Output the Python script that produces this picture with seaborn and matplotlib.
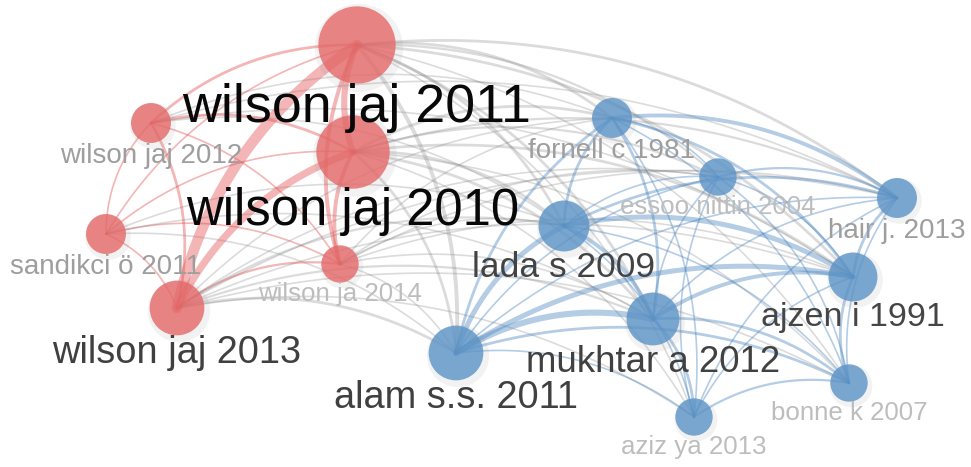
import numpy as np
import pandas as pd
import matplotlib
matplotlib.use("Agg")
import matplotlib.pyplot as plt
import seaborn as sns

# nodes of the co-citation map (layout position, citations, cluster)
labels = ["wilson jaj 2011", "wilson jaj 2010", "wilson jaj 2012", "sandikci ö 2011",
          "wilson ja 2014", "wilson jaj 2013", "fornell c 1981", "essoo nittin 2004",
          "hair j. 2013", "lada s 2009", "ajzen i 1991", "mukhtar a 2012",
          "alam s.s. 2011", "bonne k 2007", "aziz ya 2013"]
keys = ["w11", "w10", "w12", "san", "w14", "w13", "for", "ess",
        "hai", "lad", "ajz", "muk", "ala", "bon", "azi"]
pos_x = [357, 353, 151, 106, 340, 177, 612, 718, 897, 564, 853, 653, 456, 849, 694]
pos_y = [45, 152, 123, 234, 264, 308, 118, 177, 198, 226, 277, 319, 353, 383, 417]
citations = [30, 27, 8, 8, 7, 15, 8, 7, 8, 13, 12, 14, 15, 7, 7]
cluster = ["red"] * 6 + ["blue"] * 9

# links between nodes: (source, target, link strength)
edges = [
    ("w11", "w13", 9), ("w11", "w10", 5), ("w10", "w13", 6), ("w11", "w14", 3),
    ("w10", "w14", 3), ("w11", "w12", 2), ("w10", "w12", 2), ("w12", "w13", 2),
    ("w12", "san", 1), ("san", "w13", 1), ("san", "w11", 1), ("san", "w10", 1),
    ("w14", "w13", 1.5), ("w12", "w14", 1), ("san", "w14", 1),
    ("w11", "ala", 3), ("w10", "ala", 2), ("w11", "lad", 2), ("w10", "lad", 2),
    ("w11", "hai", 2), ("w11", "for", 2), ("w10", "for", 2), ("w10", "hai", 1.5),
    ("w11", "ess", 1.5), ("w10", "ess", 1.5), ("w11", "ajz", 2), ("w10", "ajz", 2),
    ("w11", "muk", 2), ("w10", "muk", 2), ("w11", "bon", 1), ("w10", "bon", 1),
    ("w11", "azi", 1), ("w10", "azi", 1), ("w13", "ala", 2), ("w13", "lad", 1.5),
    ("w13", "muk", 1.5), ("w13", "ajz", 1), ("w13", "for", 1), ("w13", "hai", 1),
    ("w13", "bon", 1), ("w13", "azi", 1), ("w13", "ess", 1), ("w14", "lad", 1),
    ("w14", "ala", 1), ("w14", "muk", 1), ("w14", "ajz", 1), ("w14", "for", 1),
    ("w12", "for", 1), ("w12", "lad", 1), ("w12", "ajz", 1), ("w12", "hai", 1),
    ("san", "ala", 1), ("san", "lad", 1), ("san", "muk", 1), ("w14", "hai", 1),
    ("w14", "ess", 1),
    ("ala", "muk", 5), ("ala", "lad", 4), ("ala", "ajz", 4), ("lad", "muk", 3),
    ("lad", "ajz", 4), ("muk", "ajz", 3), ("for", "hai", 3), ("for", "muk", 2),
    ("for", "ajz", 2), ("for", "ala", 2), ("hai", "ajz", 2), ("lad", "hai", 2),
    ("muk", "azi", 2), ("muk", "bon", 2), ("ajz", "bon", 2), ("azi", "bon", 1.5),
    ("ala", "azi", 1), ("ala", "bon", 2), ("ess", "hai", 1.5), ("ess", "ajz", 1),
    ("for", "lad", 2), ("lad", "azi", 1), ("ess", "muk", 1), ("for", "ess", 1),
    ("hai", "muk", 1), ("hai", "bon", 1), ("lad", "bon", 1), ("for", "azi", 1),
    ("ajz", "azi", 1), ("ess", "bon", 1), ("ess", "ala", 1), ("lad", "ess", 1),
    ("ala", "hai", 1), ("for", "bon", 1), ("ess", "azi", 1), ("hai", "azi", 1),
]

df = pd.DataFrame({"key": keys, "label": labels, "x": pos_x, "y": pos_y,
                   "w": citations, "cluster": cluster}).set_index("key")

palette = {"red": "#e56868", "blue": "#5b93c7"}
edge_colors = {"red": "#e45050", "blue": "#4d87c0"}

sns.set_style("white")
plt.rcParams["font.family"] = ["Liberation Sans", "DejaVu Sans"]

fig = plt.figure(figsize=(9.71, 4.67), dpi=100)
ax = fig.add_axes([0, 0, 1, 1])


def curve(p, q, c=0.2, n=60):
    # quadratic bezier, always bending the same way (VOSviewer style)
    if p[0] > q[0]:
        p, q = q, p
    d = q - p
    ctrl = (p + q) / 2 + c * np.array([d[1], -d[0]])
    t = np.linspace(0, 1, n)[:, None]
    return (1 - t) ** 2 * p + 2 * (1 - t) * t * ctrl + t ** 2 * q


for a, b, s in sorted(edges, key=lambda e: e[2]):
    p = df.loc[a, ["x", "y"]].to_numpy(float)
    q = df.loc[b, ["x", "y"]].to_numpy(float)
    pts = curve(p, q)
    if df.loc[a, "cluster"] == df.loc[b, "cluster"]:
        col, alpha = edge_colors[df.loc[a, "cluster"]], 0.42
    else:
        col, alpha = "#8a8a8a", 0.3
    ax.plot(pts[:, 0], pts[:, 1], color=col, alpha=alpha,
            lw=0.4 + 0.8 * s, solid_capstyle="round", zorder=1)

# node area proportional to citations
w_min, w_max = 7, 30
k = 103.4
# soft shadow
shadow = df.copy()
shadow["x"] = shadow["x"] + 2
shadow["y"] = shadow["y"] + 3
sns.scatterplot(data=shadow, x="x", y="y", size="w", sizes=(k * w_min * 1.3, k * w_max * 1.3),
                size_norm=(w_min, w_max), color="#999999", alpha=0.12, edgecolor="none",
                legend=False, ax=ax, zorder=2)
sns.scatterplot(data=df, x="x", y="y", hue="cluster", palette=palette, size="w",
                sizes=(k * w_min, k * w_max), size_norm=(w_min, w_max),
                alpha=0.8, edgecolor="none", legend=False, ax=ax, zorder=3)

# labels under the nodes, larger and darker for more cited works
for key, row in df.iterrows():
    r = 7.06 * np.sqrt(row["w"])
    fs = 1.0 * r
    em = fs * 100 / 72
    grey = np.interp(row["w"], [7, 8, 12, 15, 27], [0.74, 0.62, 0.27, 0.25, 0.03])
    ax.text(row["x"], row["y"] + r + 0.72 * em, row["label"], fontsize=fs,
            ha="center", va="baseline", color=str(grey), zorder=4)

ax.set_xlim(0, 971)
ax.set_ylim(467, 0)
ax.axis("off")

plt.savefig("out.png", dpi=100)
